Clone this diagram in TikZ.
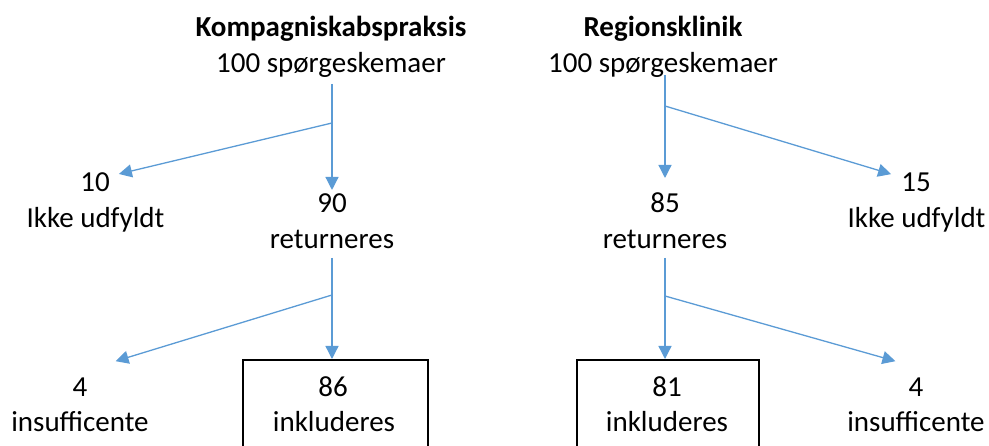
\documentclass[tikz,border=0pt]{standalone}
\usepackage{fontspec}
\setmainfont{Carlito}
\usetikzlibrary{arrows.meta}
\definecolor{arrowblue}{HTML}{5B9BD5}
\begin{document}
\begin{tikzpicture}[x=1pt,y=-1pt,
  txt/.style={anchor=base,inner sep=0pt,font=\fontsize{29}{35}\selectfont},
  num/.style={txt,inner sep=4pt},
  hd/.style={txt,font=\fontsize{29}{35}\selectfont\bfseries},
  conn/.style={draw=arrowblue,line width=1.3pt},
  arr/.style={conn,-{Triangle[length=13pt,width=13pt]}},
  inclbox/.style={draw=black,line width=2pt,rectangle,inner sep=0pt,anchor=north west}]
\useasboundingbox (0,0) rectangle (989,446);
% headings
\node[hd]  (kh) at (331,37) {Kompagniskabspraksis};
\node[txt] (kq) at (331,73) {100 spørgeskemaer};
\node[hd]  (rh) at (663,37) {Regionsklinik};
\node[txt] (rq) at (663,73) {100 spørgeskemaer};
% first tier
\node[num] (kn10)  at (95,192)  {10};
\node[txt] (kn10t) at (95.5,228) {Ikke udfyldt};
\node[num] (kn90)  at (332,213) {90};
\node[txt] (kn90t) at (332,249) {returneres};
\node[num] (rn85)  at (665,213) {85};
\node[txt] (rn85t) at (665,249) {returneres};
\node[num] (rn15)  at (916,192) {15};
\node[txt] (rn15t) at (916.5,228) {Ikke udfyldt};
% boxes
\node[inclbox,minimum width=185pt,minimum height=130pt] (kbox) at (242,359) {};
\node[inclbox,minimum width=182pt,minimum height=130pt] (rbox) at (576,359) {};
% second tier
\node[num] (kn4)   at (80,397)  {4};
\node[txt] (kn4t)  at (80,432)  {insufficente};
\node[num] (kn86)  at (333,397) {86};
\node[txt] (kn86t) at (334,432) {inkluderes};
\node[num] (rn81)  at (667,397) {81};
\node[txt] (rn81t) at (667,432) {inkluderes};
\node[num] (rn4)   at (916,397) {4};
\node[txt] (rn4t)  at (916,432) {insufficente};
% connector points
\coordinate (kA)  at (332,84);
\coordinate (kB)  at (332,123);
\coordinate (kC)  at (332,258);
\coordinate (kD)  at (332,295);
\coordinate (rA)  at (665,75);
\coordinate (rB)  at (665,106);
\coordinate (rC)  at (665,258);
\coordinate (rD)  at (665,296);
% left tree
\draw[arr] (kA) -- (kA |- kn90.north);
\draw[arr] (kB) -- ([xshift=5pt,yshift=-5pt]kn10.north east);
\draw[arr] (kC) -- (kC |- kbox.north);
\draw[arr] (kD) -- ([xshift=24pt,yshift=13pt]kn4.north east);
% right tree
\draw[arr] (rA) -- ([yshift=11pt]rA |- rn85.north);
\draw[arr] (rB) -- ([xshift=-6pt,yshift=-5pt]rn15.north west);
\draw[arr] (rC) -- (rC |- rbox.north);
\draw[arr] (rD) -- ([xshift=-9pt,yshift=13pt]rn4.north west);
\end{tikzpicture}
\end{document}
